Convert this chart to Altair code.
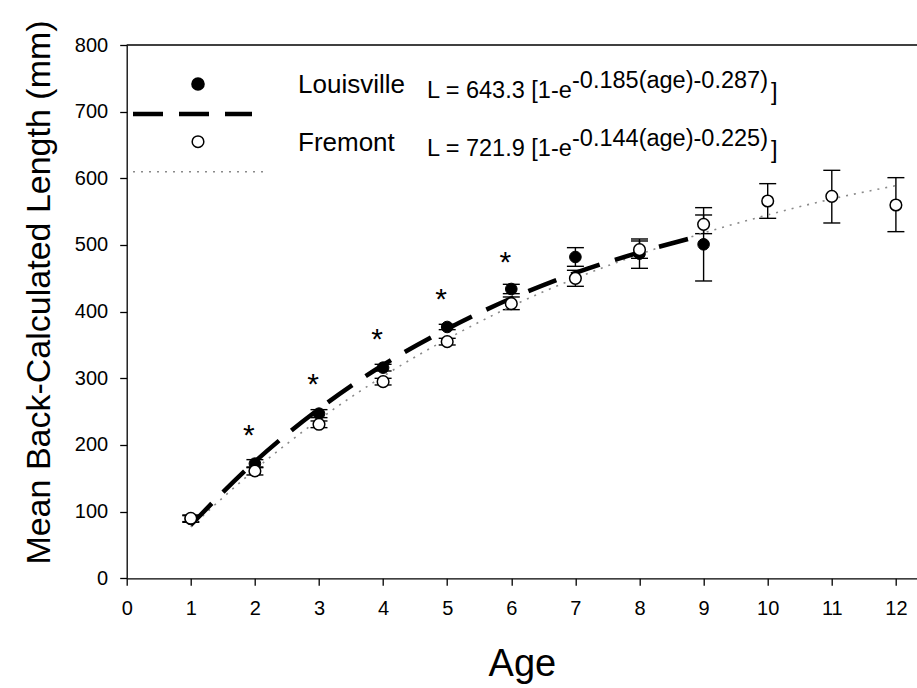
import altair as alt
import pandas as pd

# ---------------- data ----------------
lou_ages = [1, 2, 3, 4, 5, 6, 7, 8, 9]
lou_mean = [89, 172, 247, 316, 377, 434, 482, 487, 501]
lou_lo = [84, 166, 241, 311, 373, 427, 468, 465, 446]
lou_hi = [94, 178, 253, 321, 381, 441, 496, 509, 556]

fre_ages = [1, 2, 3, 4, 5, 6, 7, 8, 9, 10, 11, 12]
fre_mean = [90, 161, 231, 295, 355, 412, 450, 493, 531, 566, 573, 560]
fre_lo = [85, 155, 226, 290, 350, 403, 438, 480, 517, 540, 533, 520]
fre_hi = [95, 167, 236, 300, 360, 422, 462, 506, 545, 592, 612, 601]

# fitted growth curves, values read at each age
lou_fit = [80, 175, 254, 320, 374, 420, 458, 489, 515]
fre_fit = [77, 163, 238, 303, 359, 408, 450, 486, 518, 545, 569, 589]

star_ages = [2, 3, 4, 5, 6]
star_vals = [225, 302, 370, 430, 485]

site_names = ["Louisville", "Fremont"]
eq_main = ["L = 643.3 [1-e", "L = 721.9 [1-e"]
eq_sup = ["-0.185(age)-0.287)", "-0.144(age)-0.225)"]

x_ticks = list(range(0, 13))
y_ticks = list(range(0, 801, 100))

# ---------------- layout ----------------
FONT = "Liberation Sans"
LEFT, TOP = 126.7, 45
W = 917 - LEFT
H = 578.3 - TOP
XMAX = W / 64.1

lou = pd.DataFrame({"age": lou_ages, "mean": lou_mean, "lo": lou_lo, "hi": lou_hi, "fit": lou_fit})
fre = pd.DataFrame({"age": fre_ages, "mean": fre_mean, "lo": fre_lo, "hi": fre_hi, "fit": fre_fit})
stars = pd.DataFrame({"age": star_ages, "val": star_vals})
dummy = pd.DataFrame({"d": [0]})

xs = alt.Scale(domain=[0, XMAX], nice=False, zero=False)
ys = alt.Scale(domain=[0, 800], nice=False)

xaxis = alt.Axis(values=x_ticks, title="Age", format="d", grid=False,
                 labelFont=FONT, labelFontSize=20, labelColor="black", labelPadding=13,
                 labelFlush=False, labelOverlap=False,
                 tickSize=7, tickWidth=1.3, tickColor="black",
                 domainColor="black", domainWidth=1.3,
                 titleFont=FONT, titleFontSize=38, titleFontWeight="normal", titleColor="black",
                 titleBaseline="alphabetic", titleY=97)
yaxis = alt.Axis(values=y_ticks, title="Mean Back-Calculated Length (mm)", format="d", grid=False,
                 labelFont=FONT, labelFontSize=20, labelColor="black", labelPadding=12,
                 labelFlush=False, labelOverlap=False,
                 tickSize=7, tickWidth=1.3, tickColor="black",
                 domainColor="black", domainWidth=1.3,
                 titleFont=FONT, titleFontSize=34, titleFontWeight="normal", titleColor="black",
                 titleAngle=270, titleAlign="center", titleBaseline="alphabetic",
                 titleX=-77, titleY=247)


def X(f):
    return alt.X(f, type="quantitative", scale=xs, axis=xaxis)


def Y(f):
    return alt.Y(f, type="quantitative", scale=ys, axis=yaxis)


# error bars
layers = []
for df in (lou, fre):
    layers.append(alt.Chart(df).mark_rule(color="black", strokeWidth=1.4).encode(
        x=X("age"), y=Y("lo"), y2="hi"))
    for f in ("lo", "hi"):
        layers.append(alt.Chart(df).mark_tick(orient="horizontal", size=17, thickness=1.4,
                                              color="black", opacity=1).encode(x=X("age"), y=Y(f)))

fre_line = alt.Chart(fre).mark_line(color="#8a8a8a", strokeWidth=1.6, strokeDash=[2, 6],
                                    interpolate="monotone").encode(x=X("age"), y=Y("fit"))
lou_line = alt.Chart(lou).mark_line(color="black", strokeWidth=4.5, strokeDash=[30, 16],
                                    interpolate="monotone").encode(x=X("age"), y=Y("fit"))

lou_pts = alt.Chart(lou).mark_point(shape="circle", size=135, filled=True, fill="black",
                                    stroke="black", strokeWidth=1, opacity=1).encode(
    x=X("age"), y=Y("mean"))
fre_pts = alt.Chart(fre).mark_point(shape="circle", size=135, fill="white", stroke="black",
                                    strokeWidth=1.5, opacity=1, fillOpacity=1).encode(
    x=X("age"), y=Y("mean"))

star_txt = alt.Chart(stars).mark_text(text="*", font=FONT, fontSize=30, color="black",
                                      dx=-6, dy=8, baseline="middle").encode(
    x=X("age"), y=Y("val"))

layers += [fre_line, lou_line, lou_pts, fre_pts, star_txt]

# top frame line
layers.append(alt.Chart(dummy).mark_rule(color="black", strokeWidth=1.3).encode(
    x=alt.value(0), x2=alt.value(W), y=alt.value(0)))

# legend (pixel positions inside the plot area)
layers.append(alt.Chart(dummy).mark_point(shape="circle", size=135, filled=True, fill="black",
                                          stroke="black", opacity=1).encode(
    x=alt.value(198 - LEFT), y=alt.value(84 - TOP)))
layers.append(alt.Chart(dummy).mark_rule(color="black", strokeWidth=4.5, strokeDash=[30, 16]).encode(
    x=alt.value(133 - LEFT), x2=alt.value(252 - LEFT), y=alt.value(114 - TOP)))
layers.append(alt.Chart(dummy).mark_point(shape="circle", size=135, fill="white", stroke="black",
                                          strokeWidth=1.5, opacity=1, fillOpacity=1).encode(
    x=alt.value(198 - LEFT), y=alt.value(141.7 - TOP)))
layers.append(alt.Chart(dummy).mark_rule(color="#8a8a8a", strokeWidth=1.6, strokeDash=[2, 6]).encode(
    x=alt.value(133 - LEFT), x2=alt.value(265 - LEFT), y=alt.value(171.7 - TOP)))

NAME_X, EQ_X, SUP_X, BR_X = 298, 427, 572, 771
for i, b in enumerate([93.3, 151.2]):
    layers.append(alt.Chart(dummy).mark_text(text=site_names[i], font=FONT, fontSize=26, color="black",
                                             align="left", baseline="alphabetic").encode(
        x=alt.value(NAME_X - LEFT), y=alt.value(b - TOP)))
    layers.append(alt.Chart(dummy).mark_text(text=eq_main[i], font=FONT, fontSize=23.5, color="black",
                                             align="left", baseline="alphabetic").encode(
        x=alt.value(EQ_X - LEFT), y=alt.value(b + 5 - TOP)))
    layers.append(alt.Chart(dummy).mark_text(text=eq_sup[i], font=FONT, fontSize=23.5, color="black",
                                             align="left", baseline="alphabetic").encode(
        x=alt.value(SUP_X - LEFT), y=alt.value(b - 5 - TOP)))
    layers.append(alt.Chart(dummy).mark_text(text="]", font=FONT, fontSize=23.5, color="black",
                                             align="left", baseline="alphabetic").encode(
        x=alt.value(BR_X - LEFT), y=alt.value(b + 7 - TOP)))

chart = alt.layer(*layers).properties(
    width=W, height=H,
    autosize=alt.AutoSizeParams(type="none"),
    padding={"left": LEFT, "top": TOP, "right": 0, "bottom": 688 - TOP - H},
    background="white",
).configure_view(stroke=None)

chart.save("out.html", embed_options={"renderer": "svg", "actions": False})
